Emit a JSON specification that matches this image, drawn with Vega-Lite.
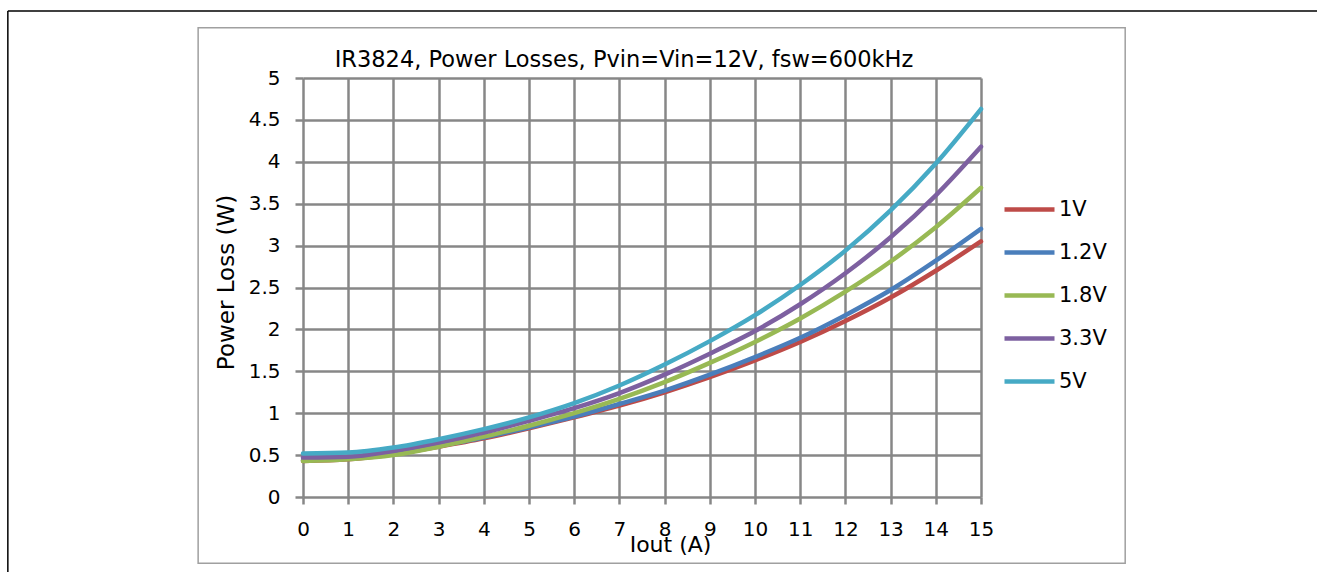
{
  "$schema": "https://vega.github.io/schema/vega-lite/v6.json",
  "autosize": "none",
  "width": 678,
  "height": 419,
  "padding": {"left": 303, "top": 78, "right": 336, "bottom": 75},
  "background": "white",
  "title": {"text": "IR3824, Power Losses, Pvin=Vin=12V, fsw=600kHz", "font": "DejaVu Sans", "fontSize": 22.5, "fontWeight": "normal", "color": "#000000", "anchor": "middle", "dx": -18, "offset": -61},
  "config": {"view": {"stroke": null}},
  "datasets": {
    "frame": [{"i": -2.32, "i2": 18.19, "p": 5.6, "p2": -0.79}],
    "outer": [{"i": -6.53, "i2": 22.7, "p": 5.8, "p2": 5.8}, {"i": -6.53, "i2": -6.53, "p": 5.8, "p2": -1.0}],
    "loss": [
      {"v": "1V", "i": 0, "p": 0.43}, {"v": "1V", "i": 1, "p": 0.45}, {"v": "1V", "i": 2, "p": 0.51}, {"v": "1V", "i": 3, "p": 0.6}, {"v": "1V", "i": 4, "p": 0.7}, {"v": "1V", "i": 5, "p": 0.82}, {"v": "1V", "i": 6, "p": 0.95}, {"v": "1V", "i": 7, "p": 1.09}, {"v": "1V", "i": 8, "p": 1.25}, {"v": "1V", "i": 9, "p": 1.43}, {"v": "1V", "i": 10, "p": 1.63}, {"v": "1V", "i": 11, "p": 1.85}, {"v": "1V", "i": 12, "p": 2.1}, {"v": "1V", "i": 13, "p": 2.38}, {"v": "1V", "i": 14, "p": 2.7}, {"v": "1V", "i": 15, "p": 3.05},
      {"v": "1.2V", "i": 0, "p": 0.44}, {"v": "1.2V", "i": 1, "p": 0.46}, {"v": "1.2V", "i": 2, "p": 0.52}, {"v": "1.2V", "i": 3, "p": 0.61}, {"v": "1.2V", "i": 4, "p": 0.71}, {"v": "1.2V", "i": 5, "p": 0.83}, {"v": "1.2V", "i": 6, "p": 0.96}, {"v": "1.2V", "i": 7, "p": 1.11}, {"v": "1.2V", "i": 8, "p": 1.27}, {"v": "1.2V", "i": 9, "p": 1.46}, {"v": "1.2V", "i": 10, "p": 1.67}, {"v": "1.2V", "i": 11, "p": 1.9}, {"v": "1.2V", "i": 12, "p": 2.17}, {"v": "1.2V", "i": 13, "p": 2.47}, {"v": "1.2V", "i": 14, "p": 2.82}, {"v": "1.2V", "i": 15, "p": 3.2},
      {"v": "1.8V", "i": 0, "p": 0.43}, {"v": "1.8V", "i": 1, "p": 0.45}, {"v": "1.8V", "i": 2, "p": 0.5}, {"v": "1.8V", "i": 3, "p": 0.6}, {"v": "1.8V", "i": 4, "p": 0.72}, {"v": "1.8V", "i": 5, "p": 0.85}, {"v": "1.8V", "i": 6, "p": 1.0}, {"v": "1.8V", "i": 7, "p": 1.17}, {"v": "1.8V", "i": 8, "p": 1.37}, {"v": "1.8V", "i": 9, "p": 1.6}, {"v": "1.8V", "i": 10, "p": 1.85}, {"v": "1.8V", "i": 11, "p": 2.13}, {"v": "1.8V", "i": 12, "p": 2.45}, {"v": "1.8V", "i": 13, "p": 2.81}, {"v": "1.8V", "i": 14, "p": 3.22}, {"v": "1.8V", "i": 15, "p": 3.69},
      {"v": "3.3V", "i": 0, "p": 0.47}, {"v": "3.3V", "i": 1, "p": 0.48}, {"v": "3.3V", "i": 2, "p": 0.55}, {"v": "3.3V", "i": 3, "p": 0.65}, {"v": "3.3V", "i": 4, "p": 0.77}, {"v": "3.3V", "i": 5, "p": 0.91}, {"v": "3.3V", "i": 6, "p": 1.06}, {"v": "3.3V", "i": 7, "p": 1.24}, {"v": "3.3V", "i": 8, "p": 1.46}, {"v": "3.3V", "i": 9, "p": 1.71}, {"v": "3.3V", "i": 10, "p": 1.98}, {"v": "3.3V", "i": 11, "p": 2.3}, {"v": "3.3V", "i": 12, "p": 2.67}, {"v": "3.3V", "i": 13, "p": 3.1}, {"v": "3.3V", "i": 14, "p": 3.6}, {"v": "3.3V", "i": 15, "p": 4.18},
      {"v": "5V", "i": 0, "p": 0.52}, {"v": "5V", "i": 1, "p": 0.53}, {"v": "5V", "i": 2, "p": 0.59}, {"v": "5V", "i": 3, "p": 0.69}, {"v": "5V", "i": 4, "p": 0.81}, {"v": "5V", "i": 5, "p": 0.95}, {"v": "5V", "i": 6, "p": 1.12}, {"v": "5V", "i": 7, "p": 1.33}, {"v": "5V", "i": 8, "p": 1.58}, {"v": "5V", "i": 9, "p": 1.86}, {"v": "5V", "i": 10, "p": 2.17}, {"v": "5V", "i": 11, "p": 2.53}, {"v": "5V", "i": 12, "p": 2.94}, {"v": "5V", "i": 13, "p": 3.42}, {"v": "5V", "i": 14, "p": 3.98}, {"v": "5V", "i": 15, "p": 4.63}
    ]
  },
  "layer": [
    {
      "data": {"name": "loss"},
      "mark": {"type": "line", "strokeWidth": 4.5, "interpolate": "monotone", "strokeCap": "round"},
      "encoding": {
        "x": {
          "field": "i", "type": "quantitative", "title": "Iout (A)",
          "scale": {"domain": [0, 15], "nice": false},
          "axis": {"values": [0,1,2,3,4,5,6,7,8,9,10,11,12,13,14,15], "format": "~g", "grid": true, "gridColor": "#878787", "gridWidth": 2.5, "gridOpacity": 1, "domain": false, "tickColor": "#878787", "tickWidth": 2.5, "tickSize": 7, "labelFont": "DejaVu Sans", "labelFontSize": 20, "labelColor": "#000000", "labelPadding": 15, "labelFlush": false, "titleFont": "DejaVu Sans", "titleFontSize": 22, "titleFontWeight": "normal", "titleColor": "#000000", "titleX": 367, "titleY": 47, "titleBaseline": "middle", "titleAlign": "center"}
        },
        "y": {
          "field": "p", "type": "quantitative", "title": "Power Loss (W)",
          "scale": {"domain": [0, 5], "nice": false},
          "axis": {"values": [0,0.5,1,1.5,2,2.5,3,3.5,4,4.5,5], "format": "~g", "grid": true, "gridColor": "#878787", "gridWidth": 2.5, "gridOpacity": 1, "domain": false, "tickColor": "#878787", "tickWidth": 2.5, "tickSize": 8, "labelFont": "DejaVu Sans", "labelFontSize": 20, "labelColor": "#000000", "labelPadding": 15, "labelFlush": false, "titleFont": "DejaVu Sans", "titleFontSize": 23, "titleFontWeight": "normal", "titleColor": "#000000", "titleX": -77, "titleY": 204, "titleAngle": -90, "titleBaseline": "middle", "titleAlign": "center"}
        },
        "color": {
          "field": "v", "type": "nominal",
          "scale": {"domain": ["1V", "1.2V", "1.8V", "3.3V", "5V"], "range": ["#BE4B48", "#4A7EBB", "#98B954", "#7D60A0", "#46AAC5"]},
          "legend": {"title": null, "orient": "none", "legendX": 699, "legendY": 104, "symbolType": "stroke", "symbolSize": 2500, "symbolStrokeWidth": 4.5, "labelFont": "DejaVu Sans", "labelFontSize": 21, "labelColor": "#000000", "labelOffset": 2, "rowPadding": 5, "symbolOffset": 0}
        }
      }
    },
    {
      "data": {"name": "frame"},
      "mark": {"type": "rect", "fill": null, "stroke": "#A0A0A0", "strokeWidth": 1.5, "clip": false},
      "encoding": {
        "x": {"field": "i", "type": "quantitative"},
        "x2": {"field": "i2"},
        "y": {"field": "p", "type": "quantitative"},
        "y2": {"field": "p2"}
      }
    },
    {
      "data": {"name": "outer"},
      "mark": {"type": "rule", "stroke": "#000000", "strokeWidth": 1.5, "clip": false},
      "encoding": {
        "x": {"field": "i", "type": "quantitative"},
        "x2": {"field": "i2"},
        "y": {"field": "p", "type": "quantitative"},
        "y2": {"field": "p2"}
      }
    }
  ]
}
